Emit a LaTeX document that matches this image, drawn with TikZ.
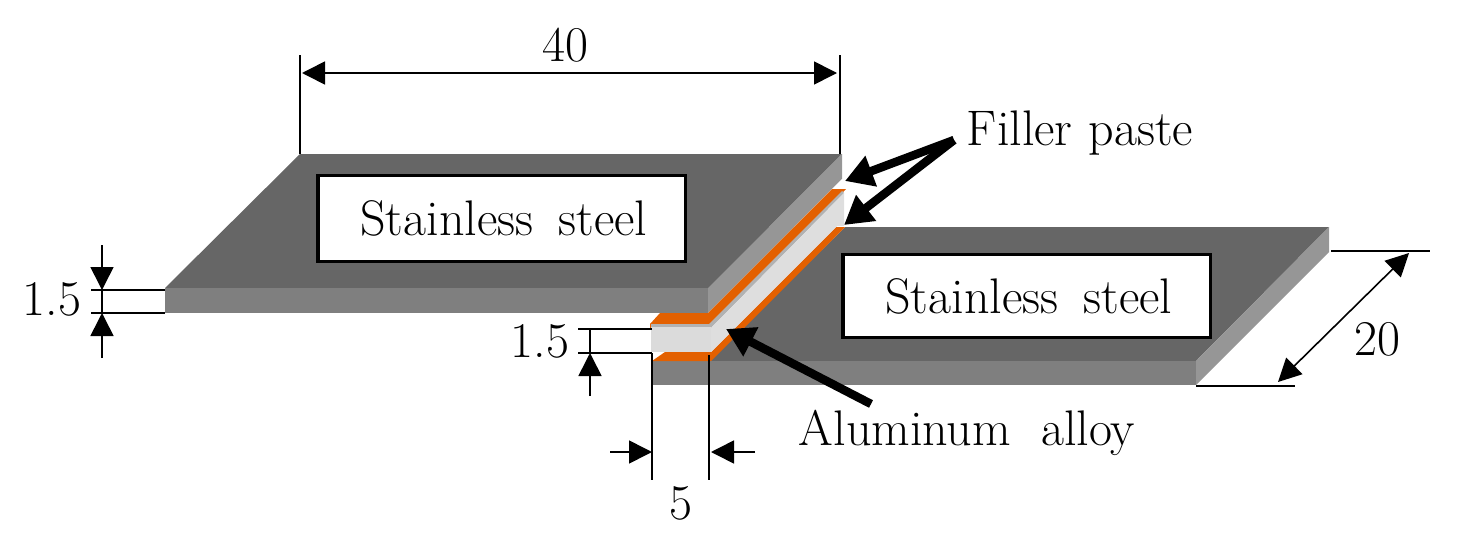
\documentclass[tikz,border=0pt]{standalone}
\usepackage{tikz}
\usetikzlibrary{positioning, arrows.meta}

\begin{document}
\begin{tikzpicture}[
    	x=1pt, y=-1pt,
    	label/.style={font=\fontsize{50}{50}\selectfont, inner sep=0pt},
    	plate/.style={rectangle, draw=black, line width=3.5pt, fill=white, anchor=north west, outer sep=0pt},
    	dim/.style={line width=1.6pt},
    	dimtip/.style={dim, {Triangle[length=23pt, width=23pt]}-{Triangle[length=23pt, width=23pt]}},
    	inarrow/.style={dim, -{Triangle[length=23pt, width=23pt]}},
    	pointer/.style={line width=8.5pt, -{Triangle[length=28pt, width=31pt]}},
    ]
    \useasboundingbox (0,0) rectangle (1465,538);
    \definecolor{topgrey}{HTML}{666666}
    \definecolor{frontgrey}{HTML}{7F7F7F}
    \definecolor{sidegrey}{HTML}{969696}
    \definecolor{filler}{HTML}{E36000}
    \definecolor{alloy}{HTML}{DEDEDE}
    
    % Right sheet
    \fill[topgrey] (708,227) -- (1329,227) -- (1196,361) -- (652,361) -- cycle;
    \fill[frontgrey] (652,361) rectangle (1196,385);
    \fill[sidegrey] (1329,227) -- (1329,252) -- (1196,385) -- (1196,361) -- cycle;
    % Left sheet
    \fill[topgrey] (300,154) -- (842,154) -- (708,288) -- (165,288) -- cycle;
    \fill[frontgrey] (165,288) rectangle (708,313);
    \fill[sidegrey] (842,154) -- (842,179) -- (708,313) -- (708,288) -- cycle;
    % Filler paste and aluminum
    \fill[white] (652,313) rectangle (708,361);
    \fill[white] (708,361) -- (708,313) -- (842,179) -- (845,227) -- cycle;
    \fill[filler] (650,324) -- (660,313) -- (708,313) -- (832,189) -- (846,189) -- (707,328) -- (650,328) -- cycle;
    \fill[filler] (652,361) -- (665,352) -- (711,352) -- (836,227) -- (845,227) -- (711,361) -- cycle;
    \fill[black!30] (651,324) -- (709,324) -- (842,191) -- (844,193) -- (711,328) -- (651,328) -- cycle;
    \fill[alloy] (711,328) -- (844,193) -- (844,226) -- (837,226) -- (711,352) -- cycle;
    \fill[black!14] (651,327) rectangle (711,352);

    % Labels
    \node[plate, minimum width=367.5pt, minimum height=86pt] (box_left) at (318,175.5) {};
    \node[plate, minimum width=367.5pt, minimum height=83pt] (box_right) at (843,254.5) {};
    \node[label, xshift=2pt] (steel_left) at (box_left) {Stainless\hspace{10pt} steel};
    \node[label, xshift=2pt] (steel_right) at (box_right) {Stainless\hspace{10pt} steel};
    \node[label] (filler_paste) at (1080,133) {Filler\hspace{1pt}\ paste};
    \node[label] (al_alloy) at (967,433) {Aluminum\ \ alloy};
    \node[label] (len) at (565,45) {40};
    \node[label] (wid) at (1377,339) {20};
    \node[label] (t_left) at (52,299) {1.5};
    \node[label] (t_mid) at (540,341) {1.5};
    \node[label] (gap) at (681,503) {5};

    % Help coordinates for dimension lines
    \coordinate (len_a) at (300,154);
    \coordinate (len_b) at (840,154);
    \coordinate (len_a_top) at (300,55);
    \coordinate (len_b_top) at (840,55);
    \coordinate (len_a_in) at (302,73);
    \coordinate (len_b_in) at (837,73);
    \coordinate (wid_a) at (1331,251);
    \coordinate (wid_a_end) at (1430,251);
    \coordinate (wid_b) at (1196,386);
    \coordinate (wid_b_end) at (1295,386);
    \coordinate (wid_a_in) at (1409,253);
    \coordinate (wid_b_in) at (1278,382);
    \coordinate (tl_a) at (91,290);
    \coordinate (tl_a_end) at (165,290);
    \coordinate (tl_b) at (91,313);
    \coordinate (tl_b_end) at (165,313);
    \coordinate (tl_a_in) at (102,290);
    \coordinate (tl_b_in) at (102,313);
    \coordinate (tl_a_out) at (102,245);
    \coordinate (tl_b_out) at (102,358);
    \coordinate (tm_a) at (578,329);
    \coordinate (tm_a_end) at (652,329);
    \coordinate (tm_b) at (578,353);
    \coordinate (tm_b_end) at (652,353);
    \coordinate (tm_a_in) at (590,329);
    \coordinate (tm_b_in) at (590,353);
    \coordinate (tm_b_out) at (590,396);
    \coordinate (gap_a) at (652,353);
    \coordinate (gap_a_end) at (652,480);
    \coordinate (gap_b) at (709,355);
    \coordinate (gap_b_end) at (709,480);
    \coordinate (gap_a_in) at (652,452);
    \coordinate (gap_b_in) at (711,452);
    \coordinate (gap_a_out) at (610,452);
    \coordinate (gap_b_out) at (755,452);
    
    % Dimension lines
    \draw[dim] (len_a) -- (len_a_top);
    \draw[dim] (len_b) -- (len_b_top);
    \draw[dimtip] (len_a_in) -- (len_b_in);
    \draw[dim] (wid_a) -- (wid_a_end);
    \draw[dim] (wid_b) -- (wid_b_end);
    \draw[dimtip] (wid_a_in) -- (wid_b_in);
    \draw[dim] (tl_a) -- (tl_a_end);
    \draw[dim] (tl_b) -- (tl_b_end);
    \draw[dim] (tl_a_in) -- (tl_b_in);
    \draw[inarrow] (tl_a_out) -- (tl_a_in);
    \draw[inarrow] (tl_b_out) -- (tl_b_in);
    \draw[dim] (tm_a) -- (tm_a_end);
    \draw[dim] (tm_b) -- (tm_b_end);
    \draw[dim] (tm_a_in) -- (tm_b_in);
    \draw[inarrow] (tm_b_out) -- (tm_b_in);
    \draw[dim] (gap_a) -- (gap_a_end);
    \draw[dim] (gap_b) -- (gap_b_end);
    \draw[inarrow] (gap_a_out) -- (gap_a_in);
    \draw[inarrow] (gap_b_out) -- (gap_b_in);

    % Pointers
    \coordinate (fp_start) at (954,140);
    \coordinate (fp_top) at (845,181);
    \coordinate (fp_low) at (844,225);
    \coordinate (al_start) at (871,404);
    \coordinate (al_tip) at (726,329);
    \draw[pointer] (fp_start) -- (fp_top);
    \draw[pointer] (fp_start) -- (fp_low);
    \draw[pointer] (al_start) -- (al_tip);
\end{tikzpicture}
\end{document}
